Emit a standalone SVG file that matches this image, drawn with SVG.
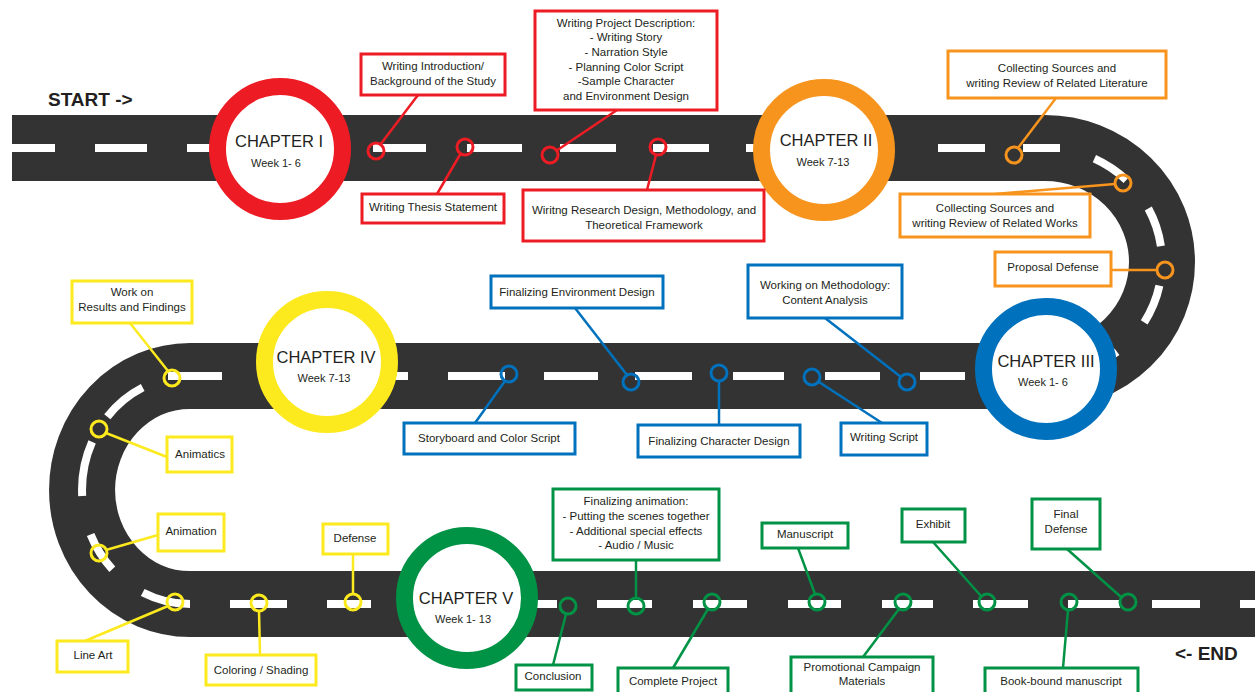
<svg xmlns="http://www.w3.org/2000/svg" width="1255" height="692" viewBox="0 0 1255 692">
<style>
.road{fill:none;stroke:#333333;stroke-width:66}
.dash{fill:none;stroke:#ffffff;stroke-width:8}
.t{font-family:"Liberation Sans",Arial,sans-serif;font-size:11.5px;fill:#231F20;text-anchor:middle}
.ch{font-family:"Liberation Sans",Arial,sans-serif;font-size:16.5px;fill:#231F20;text-anchor:middle}
.wk{font-family:"Liberation Sans",Arial,sans-serif;font-size:11px;fill:#231F20;text-anchor:middle}
.big{font-family:"Liberation Sans",Arial,sans-serif;font-size:19px;font-weight:bold;fill:#231F20}
.box{fill:#ffffff;stroke-width:3}
.ring{fill:#ffffff;stroke-width:17}
.dot{fill:none;stroke-width:3}
.ln{fill:none;stroke-width:2.5}
.red{stroke:#ED1C24}.org{stroke:#F7941D}.blu{stroke:#0071BC}.yel{stroke:#FCEA1E}.grn{stroke:#009245}
</style>
<rect width="1255" height="692" fill="#ffffff"/>
<g id="road">
<path class="road" d="M12,148H1045A117,114 0 0 1 1045,376H190A108,114 0 0 0 190,604H1255"/>
<path class="dash" d="M12,148H55M95,148H147M187,148H239M279,148H331M373,148H426M467,148H522M560,148H616M653,148H709M746,148H800M839,148H892M938,148H985M1023,148H1060
M1094.4,158.7A117,114 0 0 1 1126.3,180M1148.3,208.5A117,114 0 0 1 1160.9,246.1M1159.4,285.7A117,114 0 0 1 1144.2,322.4M1117,351.8A117,114 0 0 1 1081.2,370.4
M1000,376H1040M920,376H965M825,376H880M733,376H784M635,376H692M544,376H598M448,376H505M356,376H408M262,376H315M168,376H222
M142.7,387.5A108,114 0 0 0 107.3,416.7M92.1,441.8A108,114 0 0 0 82.2,496M90.6,534.5A108,114 0 0 0 112.3,569.2M142.7,592.5A108,114 0 0 0 190,604
M230,604H287M327,604H371M420,604H475M510,604H557M597,604H652M693,604H747M788,604H841M882,604H933M973,604H1028M1068,604H1120M1152,604H1200M1240,604H1255"/>
</g>
<g id="connectors">
<g class="ln red"><line x1="418" y1="95" x2="380" y2="145"/><line x1="461" y1="153" x2="437" y2="194"/><line x1="617" y1="110" x2="556" y2="151"/><line x1="656" y1="155" x2="647" y2="190"/></g>
<g class="ln org"><line x1="1056" y1="98" x2="1018" y2="148"/><line x1="995" y1="194" x2="1115" y2="184"/><line x1="1111" y1="270" x2="1157" y2="270"/></g>
<g class="ln blu"><line x1="825" y1="318" x2="901" y2="377"/><line x1="819" y1="382" x2="882" y2="423"/><line x1="719" y1="381" x2="719" y2="425"/><line x1="575" y1="308" x2="627" y2="375"/><line x1="505" y1="381" x2="475" y2="423"/></g>
<g class="ln yel"><line x1="130" y1="323" x2="168" y2="371"/><line x1="106" y1="433" x2="167" y2="457"/><line x1="106" y1="550" x2="158" y2="535"/><line x1="168" y1="606" x2="85" y2="641"/><line x1="259" y1="611" x2="260" y2="655"/><line x1="353" y1="554" x2="353" y2="594"/></g>
<g class="ln grn"><line x1="636" y1="560" x2="636" y2="598"/><line x1="566" y1="614" x2="553" y2="665"/><line x1="708" y1="609" x2="673" y2="668"/><line x1="798" y1="548" x2="815" y2="594"/><line x1="899" y1="609" x2="863" y2="657"/><line x1="933" y1="542" x2="981" y2="596"/><line x1="1067" y1="549" x2="1121" y2="597"/><line x1="1068" y1="610" x2="1063" y2="668"/></g>
<g class="dot red"><circle cx="376" cy="151" r="8"/><circle cx="465" cy="147" r="8"/><circle cx="550" cy="155" r="8"/><circle cx="658" cy="147" r="8"/></g>
<g class="dot org"><circle cx="1014" cy="155" r="8"/><circle cx="1123" cy="183" r="8"/><circle cx="1165" cy="270" r="8"/></g>
<g class="dot blu"><circle cx="907" cy="382" r="8"/><circle cx="812" cy="377" r="8"/><circle cx="719" cy="373" r="8"/><circle cx="631" cy="382" r="8"/><circle cx="509" cy="374" r="8"/></g>
<g class="dot yel"><circle cx="172" cy="378" r="8"/><circle cx="99" cy="429" r="8"/><circle cx="99" cy="553" r="8"/><circle cx="175" cy="602" r="8"/><circle cx="259" cy="603" r="8"/><circle cx="353" cy="602" r="8"/></g>
<g class="dot grn"><circle cx="636" cy="606" r="8"/><circle cx="568" cy="606" r="8"/><circle cx="712" cy="602" r="8"/><circle cx="817" cy="602" r="8"/><circle cx="903" cy="602" r="8"/><circle cx="987" cy="602" r="8"/><circle cx="1128" cy="602" r="8"/><circle cx="1069" cy="602" r="8"/></g>
</g>
<g id="start"><text class="big" x="48" y="106">START -&gt;</text></g>
<g id="end"><text class="big" x="1175" y="660">&lt;- END</text></g>
<g id="chapter1"><circle class="ring red" cx="280" cy="149" r="62.5"/><text class="ch" x="279" y="147">CHAPTER I</text><text class="wk" x="276" y="167">Week 1- 6</text></g>
<g id="chapter2"><circle class="ring org" cx="824" cy="150" r="62.5"/><text class="ch" x="826" y="146">CHAPTER II</text><text class="wk" x="823" y="166">Week 7-13</text></g>
<g id="chapter3"><circle class="ring blu" cx="1046" cy="369" r="62.5"/><text class="ch" x="1046" y="367">CHAPTER III</text><text class="wk" x="1043" y="386">Week 1- 6</text></g>
<g id="chapter4"><circle class="ring yel" cx="327" cy="362" r="62.5"/><text class="ch" x="326" y="363">CHAPTER IV</text><text class="wk" x="324" y="382">Week 7-13</text></g>
<g id="chapter5"><circle class="ring grn" cx="467" cy="598" r="62.5"/><text class="ch" x="466" y="604">CHAPTER V</text><text class="wk" x="463" y="623">Week 1- 13</text></g>
<g id="n-intro"><rect class="box red" x="361" y="54" width="144" height="41"/><text class="t" x="433" y="70">Writing Introduction/</text><text class="t" x="433" y="85">Background of the Study</text></g>
<g id="n-thesis"><rect class="box red" x="362" y="194" width="142" height="29"/><text class="t" x="433" y="211">Writing Thesis  Statement</text></g>
<g id="n-project"><rect class="box red" x="535" y="11" width="182" height="99"/><text class="t" x="626" y="27">Writing Project Description:</text><text class="t" x="626" y="41">- Writing Story</text><text class="t" x="626" y="56">- Narration Style</text><text class="t" x="626" y="71">- Planning Color Script</text><text class="t" x="626" y="85">-Sample Character</text><text class="t" x="626" y="100">and Environment Design</text></g>
<g id="n-research"><rect class="box red" x="523" y="190" width="241" height="51"/><text class="t" x="644" y="214">Wiritng Research Design, Methodology, and</text><text class="t" x="644" y="229">Theoretical Framework</text></g>
<g id="n-rrl"><rect class="box org" x="948" y="51" width="218" height="47"/><text class="t" x="1057" y="72">Collecting Sources and</text><text class="t" x="1057" y="87">writing Review of Related Literature</text></g>
<g id="n-rrw"><rect class="box org" x="900" y="194" width="190" height="43"/><text class="t" x="995" y="212">Collecting Sources and</text><text class="t" x="995" y="227">writing Review of Related Works</text></g>
<g id="n-proposal"><rect class="box org" x="995" y="252" width="116" height="34"/><text class="t" x="1053" y="271">Proposal Defense</text></g>
<g id="n-method"><rect class="box blu" x="748" y="265" width="154" height="53"/><text class="t" x="825" y="289">Working on Methodology:</text><text class="t" x="825" y="304">Content Analysis</text></g>
<g id="n-script"><rect class="box blu" x="841" y="423" width="86" height="32"/><text class="t" x="884" y="441">Writing Script</text></g>
<g id="n-chardesign"><rect class="box blu" x="638" y="425" width="162" height="32"/><text class="t" x="719" y="445">Finalizing Character Design</text></g>
<g id="n-envdesign"><rect class="box blu" x="491" y="276" width="172" height="32"/><text class="t" x="577" y="296">Finalizing Environment Design</text></g>
<g id="n-storyboard"><rect class="box blu" x="404" y="423" width="171" height="31"/><text class="t" x="489" y="442">Storyboard and Color Script</text></g>
<g id="n-results"><rect class="box yel" x="72" y="281" width="120" height="42"/><text class="t" x="132" y="296">Work on</text><text class="t" x="132" y="311">Results and Findings</text></g>
<g id="n-animatics"><rect class="box yel" x="167" y="437" width="65" height="35"/><text class="t" x="200" y="458">Animatics</text></g>
<g id="n-animation"><rect class="box yel" x="158" y="514" width="66" height="37"/><text class="t" x="191" y="535">Animation</text></g>
<g id="n-lineart"><rect class="box yel" x="57" y="641" width="71" height="31"/><text class="t" x="93" y="659">Line Art</text></g>
<g id="n-coloring"><rect class="box yel" x="206" y="655" width="110" height="30"/><text class="t" x="261" y="674">Coloring / Shading</text></g>
<g id="n-defense"><rect class="box yel" x="323" y="524" width="65" height="30"/><text class="t" x="355" y="542">Defense</text></g>
<g id="n-finalanim"><rect class="box grn" x="553" y="489" width="166" height="71"/><text class="t" x="636" y="505">Finalizing animation:</text><text class="t" x="636" y="520">- Putting the scenes together</text><text class="t" x="636" y="535">- Additional special effects</text><text class="t" x="636" y="549">- Audio / Music</text></g>
<g id="n-conclusion"><rect class="box grn" x="516" y="665" width="76" height="25"/><text class="t" x="553" y="680">Conclusion</text></g>
<g id="n-complete"><rect class="box grn" x="618" y="668" width="110" height="30"/><text class="t" x="673" y="685">Complete Project</text></g>
<g id="n-manuscript"><rect class="box grn" x="762" y="523" width="86" height="25"/><text class="t" x="805" y="538">Manuscript</text></g>
<g id="n-promo"><rect class="box grn" x="791" y="657" width="142" height="40"/><text class="t" x="862" y="671">Promotional Campaign</text><text class="t" x="862" y="685">Materials</text></g>
<g id="n-exhibit"><rect class="box grn" x="902" y="509" width="63" height="33"/><text class="t" x="933" y="528">Exhibit</text></g>
<g id="n-finaldefense"><rect class="box grn" x="1032" y="499" width="68" height="50"/><text class="t" x="1066" y="518">Final</text><text class="t" x="1066" y="533">Defense</text></g>
<g id="n-bookbound"><rect class="box grn" x="985" y="668" width="153" height="30"/><text class="t" x="1061" y="685">Book-bound manuscript</text></g>
</svg>
